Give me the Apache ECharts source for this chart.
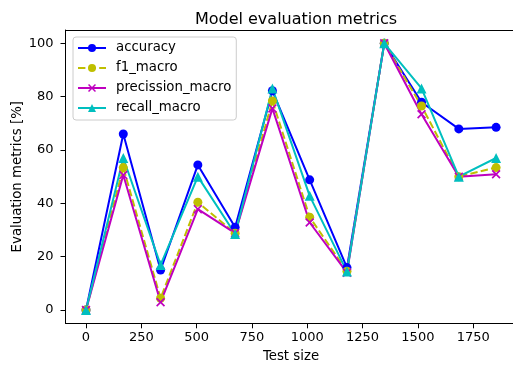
<!DOCTYPE html>
<html>
<head>
<meta charset="utf-8">
<script src="https://cdn.jsdelivr.net/npm/echarts@6/dist/echarts.min.js"></script>
<style>html,body{margin:0;padding:0;background:#fff;}#c{width:513px;height:367px;}</style>
</head>
<body>
<div id="c"></div>
<script>
const testSizes = [0, 168.5, 337, 505.5, 674, 842.5, 1011, 1179.5, 1348, 1516.5, 1685, 1853.5];
const accuracy = [0, 66.0, 15.0, 54.4, 31.0, 82.2, 48.8, 15.9, 100, 77.9, 67.9, 68.5];
const f1Macro = [0, 53.4, 4.4, 40.4, 28.8, 78.4, 34.8, 14.5, 100, 76.5, 50.0, 53.4];
const precissionMacro = [0, 50.6, 2.9, 37.8, 28.8, 75.6, 32.8, 14.0, 100, 73.4, 50.0, 50.9];
const recallMacro = [0, 57.0, 16.9, 50.0, 28.5, 83.1, 42.8, 14.4, 100, 83.1, 50.0, 57.0];
const xTicks = [0, 250, 500, 750, 1000, 1250, 1500, 1750];
const yTicks = [0, 20, 40, 60, 80, 100];

const FONT = 'DejaVu Sans';
const pairs = (ys) => testSizes.map((x, i) => [x, ys[i]]);
const CROSS = 'path://M0,1.3L1.3,0L10,8.7L8.7,10Z M8.7,0L10,1.3L1.3,10L0,8.7Z';
const X_MIN = -92.675, X_MAX = 1946.175;

const chart = echarts.init(document.getElementById('c'), null, {renderer: 'canvas'});
function mk(name, data, color, symbol, dashed, size) {
  return {
    name, type: 'line', xAxisIndex: 0, yAxisIndex: 0,
    data: pairs(data), symbol, symbolSize: size, symbolKeepAspect: true,
    itemStyle: {color: color},
    lineStyle: {color: color, width: 2, type: dashed ? [7.4, 3.2] : 'solid'},
    emphasis: {disabled: true}, animation: false, clip: true
  };
}
chart.setOption({
  animation: false,
  backgroundColor: '#fff',
  textStyle: {fontFamily: FONT},
  title: {
    text: 'Model evaluation metrics', left: 291, top: 7, textAlign: 'center',
    textStyle: {fontFamily: FONT, fontSize: 16, fontWeight: 'normal', color: '#000'}
  },
  grid: {left: 65.5, right: -3.6, top: 30, bottom: 43.7, outerBoundsMode: 'none', containLabel: false, show: false},
  legend: {
    orient: 'vertical', left: 73, top: 37,
    itemWidth: 28, itemHeight: 10, itemGap: 6,
    padding: [4, 5, 5, 4],
    borderColor: '#cccccc', borderWidth: 1, borderRadius: 3,
    backgroundColor: 'rgba(255,255,255,0.8)',
    textStyle: {fontFamily: FONT, fontSize: 13.3, color: '#000', lineHeight: 14, padding: [0, 0, 0, 5]},
    data: ['accuracy', 'f1_macro', 'precission_macro', 'recall_macro']
  },
  graphic: [
    {type: 'text', rotation: Math.PI / 2, x: 18, y: 176.7, silent: true,
     style: {text: 'Evaluation metrics [%]', font: '13.3px "DejaVu Sans"', fill: '#000',
             align: 'center', verticalAlign: 'middle'}},
    {type: 'text', silent: true, x: 291, y: 357,
     style: {text: 'Test size', font: '13.3px "DejaVu Sans"', fill: '#000',
             align: 'center', verticalAlign: 'middle'}}
  ],
  xAxis: [{
    type: 'value', min: X_MIN, max: X_MAX,
    axisLine: {show: true, onZero: false, lineStyle: {color: '#000', width: 1}},
    axisTick: {show: true, length: 5, lineStyle: {color: '#000'}, customValues: xTicks},
    axisLabel: {fontFamily: FONT, fontSize: 13, color: '#000', margin: 8, customValues: xTicks,
                formatter: (v) => String(v)},
    splitLine: {show: false}
  }, {
    type: 'value', min: X_MIN, max: X_MAX, position: 'top',
    axisLine: {show: true, onZero: false, lineStyle: {color: '#000', width: 1}},
    axisTick: {show: false}, axisLabel: {show: false}, splitLine: {show: false}
  }],
  yAxis: {
    type: 'value', min: -5, max: 105,
    axisLine: {show: true, onZero: false, lineStyle: {color: '#000', width: 1}},
    axisTick: {show: true, length: 5, lineStyle: {color: '#000'}, customValues: yTicks},
    axisLabel: {fontFamily: FONT, fontSize: 13, color: '#000', margin: 12, customValues: yTicks},
    splitLine: {show: false}
  },
  series: [
    mk('accuracy', accuracy, '#0000ff', 'circle', false, 9),
    mk('f1_macro', f1Macro, '#bfbf00', 'circle', true, 9),
    mk('precission_macro', precissionMacro, '#bf00bf', CROSS, false, 9),
    mk('recall_macro', recallMacro, '#00bfbf', 'triangle', false, 10)
  ]
});
</script>
</body>
</html>
